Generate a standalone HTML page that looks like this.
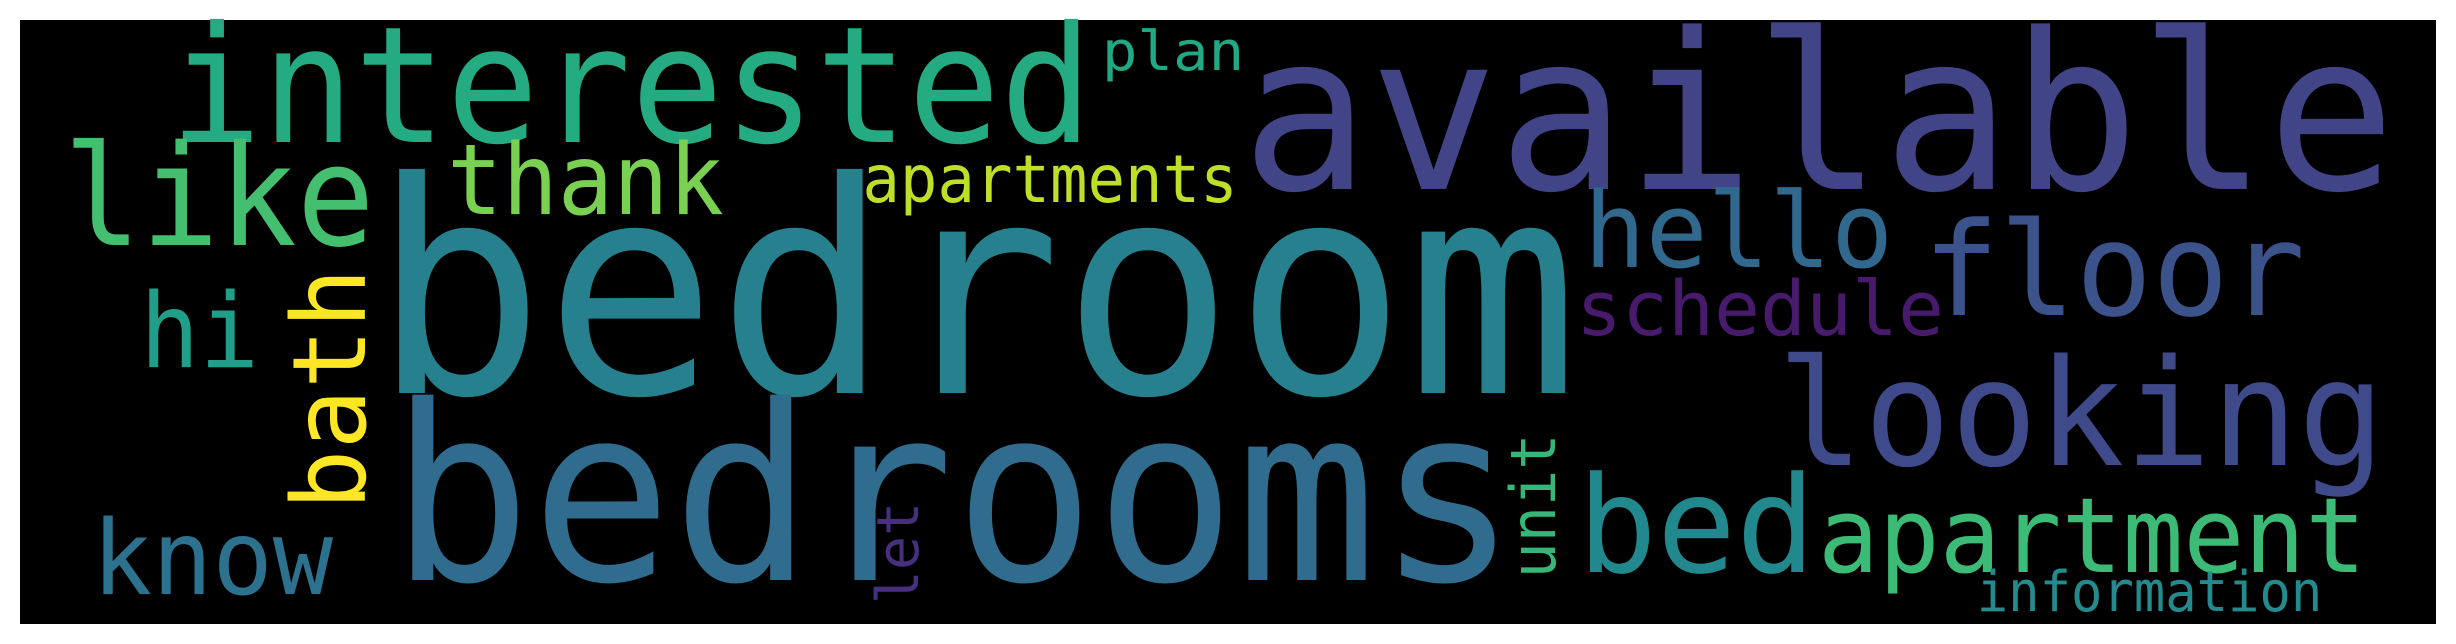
<!DOCTYPE html>
<html><head><meta charset="utf-8"><style>
html,body{margin:0;padding:0;background:#fff;width:2456px;height:644px;overflow:hidden}
text{font-family:"DejaVu Sans Mono","Liberation Mono",monospace}
</style></head><body>
<svg id="cloud" width="2456" height="644" viewBox="0 0 2456 644" xmlns="http://www.w3.org/2000/svg">
<rect x="20" y="20" width="2416" height="604" fill="#000"/>
</svg>
<script>
const words = ["interested","like","thank","plan","apartments","bedroom","hi","bath","bedrooms","know","let","available","hello","floor","schedule","looking","unit","bed","apartment","information"];
const sizes = [162,140,98,54,66,295,103,102,244,103,58,218,104,130,76,148,62,134,104,56];
const inkLeft = [176,69,451,1104,865,384,144,284,400,96,872,1250,1588,1928,1579,1783,1508,1583,1822,1979];
const baseY   = [142,245,214,70,202,393,367,506,580,594,602,189,267,315,335,465,576,572,572,611];
const inkLen  = [910,300,269,138,370,1183,111,234,1108,233,98,1137,301,372,362,596,140,227,540,341];
const rotated = [0,0,0,0,0,0,0,1,0,0,1,0,0,0,0,0,1,0,0,0];
const rotBaseX= [0,0,0,0,0,0,0,365,0,0,918,0,0,0,0,0,1555,0,0,0];
const colors  = ["#25ab82","#44bf70","#7ad151","#22a884","#bddf26","#26808e","#1f9e89","#fde725","#2f6c8e","#2c718e","#46307e","#414487","#31688e","#3b528b","#481a6c","#3e4a89","#35b779","#21898d","#3bbb75","#238a8d"];
const svg = document.getElementById('cloud');
const NS = "http://www.w3.org/2000/svg";
words.forEach((w,i)=>{
  const t = document.createElementNS(NS,'text');
  
  
  const fs = sizes[i];
  t.setAttribute('font-size', fs);
  t.setAttribute('fill', colors[i]);
  t.setAttribute('textLength', inkLen[i] + 0.08*fs);
  t.setAttribute('lengthAdjust', 'spacingAndGlyphs');
  if (rotated[i]) {
    const bx = rotBaseX[i], by = baseY[i] + 0.04*fs;
    t.setAttribute('x', bx); t.setAttribute('y', by);
    t.setAttribute('transform', `rotate(-90 ${bx} ${by})`);
  } else {
    t.setAttribute('x', inkLeft[i] - 0.04*fs);
    t.setAttribute('y', baseY[i]);
  }
  t.textContent = w;
  svg.appendChild(t);
});
</script>
</body></html>
